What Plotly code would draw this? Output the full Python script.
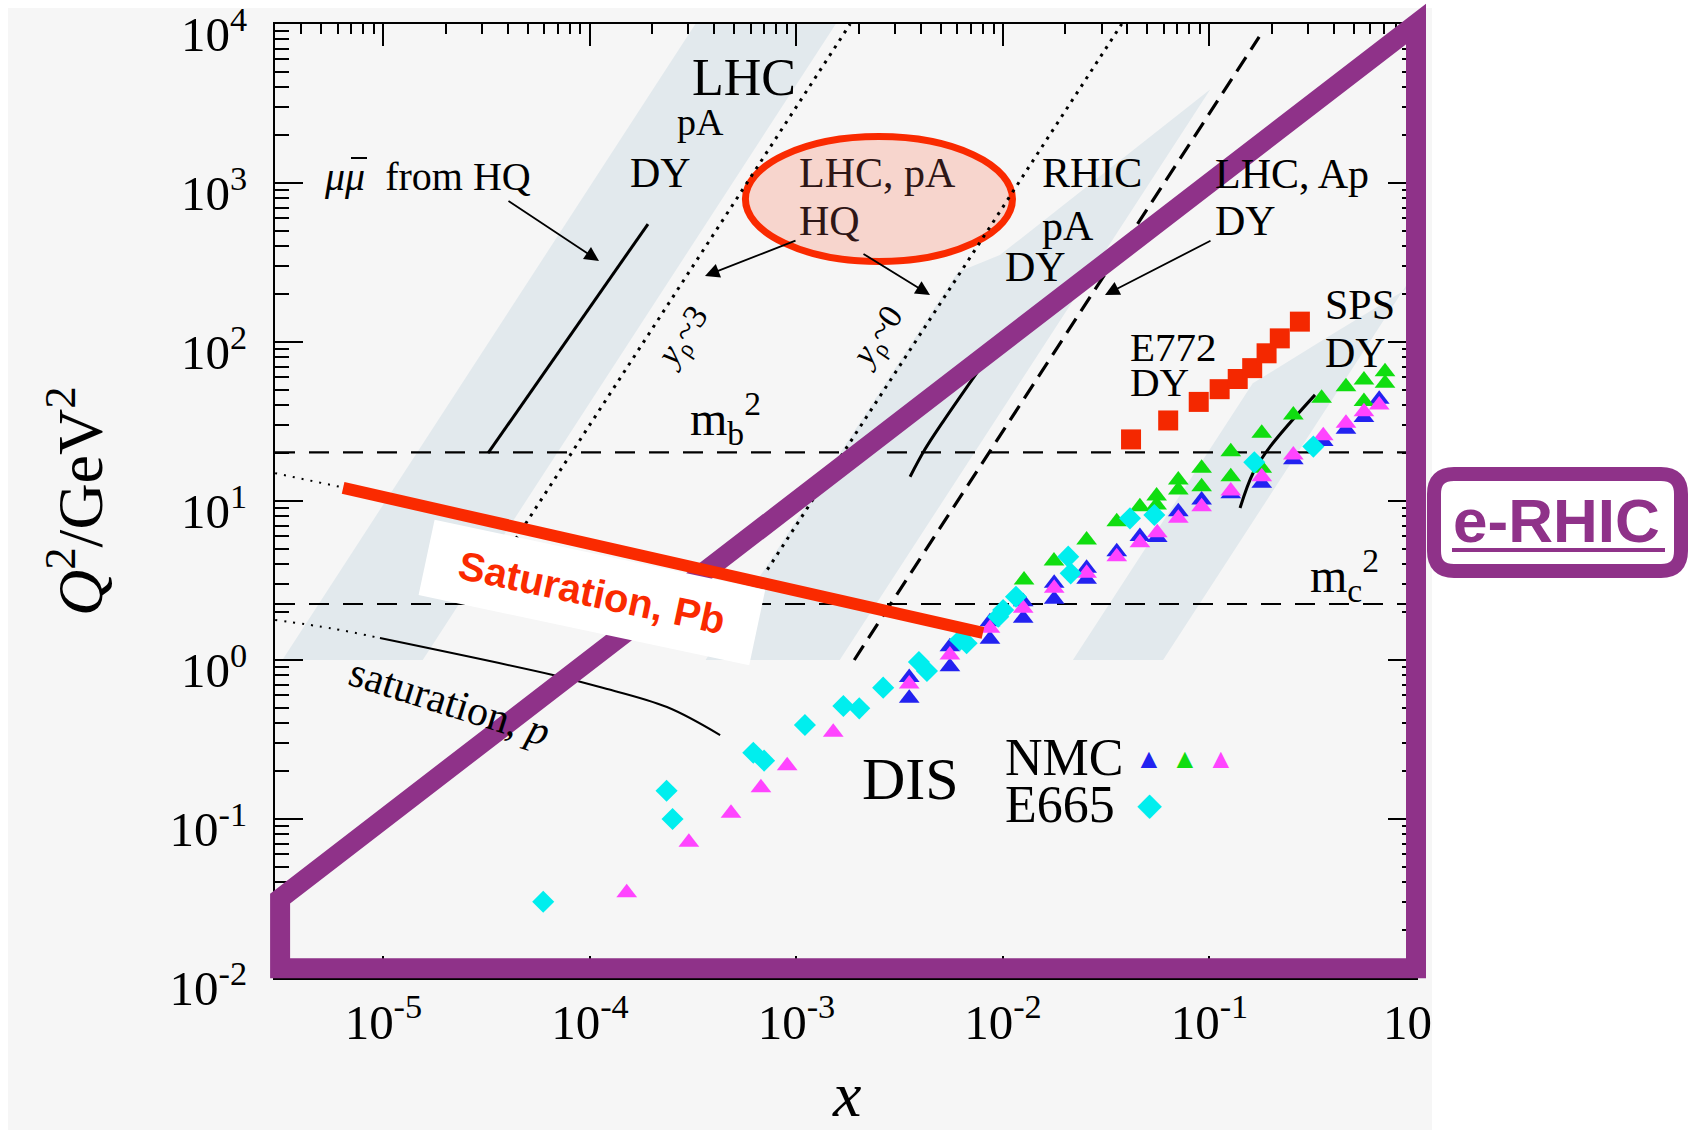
import numpy as np
import plotly.graph_objects as go

# ---------------------------------------------------------------------------
# Figure geometry (pixels) and axis ranges (log10 units)
# ---------------------------------------------------------------------------
FIG_W, FIG_H = 1691, 1130
PLOT_L, PLOT_R, PLOT_T, PLOT_B = 275, 1416, 24, 978
X_LOG_RANGE = [-5.525, 0.0]
Y_LOG_RANGE = [-2.0, 4.0]

SERIF = "Liberation Serif"
SANS = "Liberation Sans"
PURPLE = "#8f3289"
RED = "#fa2a00"
BAND = "#e2e9ed"
PANEL = "#f6f6f6"

# ---------------------------------------------------------------------------
# Tick labels
# ---------------------------------------------------------------------------
x_tick_vals = [1e-5, 1e-4, 1e-3, 1e-2, 1e-1, 1.0]
x_tick_text = ["10<sup>-5</sup>", "10<sup>-4</sup>", "10<sup>-3</sup>",
               "10<sup>-2</sup>", "10<sup>-1</sup>", "10<sup>\u2007</sup>"]
y_tick_vals = [1e-2, 1e-1, 1.0, 1e1, 1e2, 1e3, 1e4]
y_tick_text = ["10<sup>-2</sup>", "10<sup>-1</sup>", "10<sup>0</sup>", "10<sup>1</sup>",
               "10<sup>2</sup>", "10<sup>3</sup>", "10<sup>4</sup>"]
x_minor_vals = [k * 10.0 ** n for n in range(-6, 0) for k in range(2, 10)
                if 10 ** X_LOG_RANGE[0] < k * 10.0 ** n < 1.0]
y_minor_vals = [k * 10.0 ** n for n in range(-2, 4) for k in range(2, 10)]

# ---------------------------------------------------------------------------
# Data: DIS measurements (x, Q^2 in GeV^2)
# ---------------------------------------------------------------------------
nmc_blue_x = [3.516e-3, 3.516e-3, 5.534e-3, 5.534e-3, 8.650e-3, 8.650e-3, 1.253e-2, 1.253e-2,
              1.770e-2, 1.770e-2, 2.541e-2, 2.541e-2, 3.556e-2, 4.603e-2, 5.585e-2, 7.063e-2,
              9.162e-2, 0.1268, 0.1791, 0.2547, 0.3556, 0.4581, 0.5598, 0.6637]
nmc_blue_q2 = [0.574, 0.776, 0.908, 1.213, 1.349, 1.742, 1.828, 2.328,
               2.410, 3.034, 3.221, 3.776, 4.797, 5.970, 5.888, 8.570,
               10.14, 11.09, 12.91, 18.20, 23.71, 28.25, 33.50, 43.65]

nmc_green_x = [1.265e-2, 1.766e-2, 2.541e-2, 3.556e-2, 4.603e-2, 5.546e-2, 5.546e-2, 7.063e-2,
               7.063e-2, 9.162e-2, 9.162e-2, 0.1268, 0.1268, 0.1791, 0.1791, 0.2547,
               0.3491, 0.4581, 0.5598, 0.5598, 0.7079, 0.7079]
nmc_green_q2 = [3.184, 4.198, 5.689, 7.413, 9.204, 10.74, 9.441, 11.72,
                13.55, 16.07, 12.30, 20.42, 14.22, 26.67, 16.07, 34.75,
                44.26, 52.36, 57.68, 42.17, 65.01, 54.95]

nmc_magenta_x = [1.507e-4, 3.013e-4, 4.82e-4, 6.73e-4, 9.02e-4, 1.507e-3, 3.516e-3, 5.534e-3,
                 8.650e-3, 1.253e-2, 1.770e-2, 2.541e-2, 3.556e-2, 4.603e-2, 5.585e-2, 7.063e-2,
                 9.162e-2, 0.1268, 0.1791, 0.2547, 0.3556, 0.4581, 0.5598, 0.6637]
nmc_magenta_q2 = [0.0344, 0.0714, 0.1086, 0.1574, 0.2163, 0.3508, 0.7063, 1.074,
                  1.581, 2.113, 2.825, 3.508, 4.467, 5.470, 6.324, 7.780,
                  9.204, 11.56, 14.22, 19.45, 25.76, 30.83, 36.48, 40.18]

e665_x = [5.94e-5, 2.350e-4, 2.512e-4, 6.18e-4, 6.97e-4, 1.099e-3, 1.687e-3, 2.014e-3,
          2.630e-3, 3.917e-3, 4.285e-3, 6.194e-3, 6.668e-3, 9.484e-3, 1.002e-2, 1.156e-2,
          2.070e-2, 2.128e-2, 4.121e-2, 5.408e-2, 0.1648, 0.3184]
e665_q2 = [0.0302, 0.1507, 0.1000, 0.2612, 0.2328, 0.3899, 0.5140, 0.4966,
           0.6699, 0.9705, 0.8531, 1.337, 1.274, 1.871, 2.061, 2.500,
           4.467, 3.508, 7.780, 8.166, 17.50, 21.98]

# Drell-Yan measurements
e772_x = [0.0417, 0.0631, 0.0887, 0.112, 0.137, 0.161, 0.189, 0.219, 0.274]
e772_q2 = [24.4, 32.1, 42.0, 50.5, 58.5, 68.5, 84.9, 105.4, 134.3]

# ---------------------------------------------------------------------------
# Kinematic reach curves
# ---------------------------------------------------------------------------
mb2 = 20.25   # m_b^2
mc2 = 2.25    # m_c^2

# fixed-rapidity lines, Q^2 ~ x^2
yrho3_x, yrho3_q2 = [3.15e-5, 1.82e-3], [3.0, 1.0e4]
yrho0_x, yrho0_q2 = [7.23e-4, 3.76e-2], [3.7, 1.0e4]
lhc_ap_x, lhc_ap_q2 = [1.905e-3, 0.174], [1.0, 8.3e3]

# shaded acceptance bands (polygons)
band_lhc_x = [3.24e-6, 1.55e-5, 1.55e-3, 3.24e-4]
band_lhc_q2 = [1.0, 1.0, 1.0e4, 1.0e4]
band_rhic_x = [3.63e-4, 1.62e-3, 0.101, 9.66e-3, 6.03e-3]
band_rhic_q2 = [1.0, 1.0, 3890.0, 352.0, 275.0]
band_sps_x = [0.0218, 0.0596, 1.0, 1.0, 0.372, 0.162]
band_sps_q2 = [1.0, 1.0, 282.0, 234.0, 107.0, 55.0]

# heavy-quark dimuon curves
mumu_lhc_x, mumu_lhc_q2 = [3.21e-5, 1.91e-4], [20.0, 552.0]
mumu_rhic_x, mumu_rhic_q2 = [3.55e-3, 4.17e-3, 5.13e-3, 7.94e-3], [14.2, 20.9, 31.6, 71.6]
mumu_sps_x, mumu_sps_q2 = [0.1406, 0.1626, 0.1963, 0.3243], [9.04, 15.0, 21.9, 46.5]

# saturation scales
sat_p_dot_x, sat_p_dot_q2 = [2.99e-6, 5.62e-6, 9.62e-6], [1.786, 1.58, 1.374]
sat_p_x = [9.62e-6, 6.62e-5, 1.117e-4, 2.36e-4, 4.27e-4]
sat_p_q2 = [1.374, 0.805, 0.676, 0.506, 0.337]
sat_pb_dot_x, sat_pb_dot_q2 = [2.99e-6, 6.38e-6], [14.96, 12.16]
sat_pb_x, sat_pb_q2 = [6.38e-6, 8.0e-3], [12.08, 1.48]

# e-RHIC coverage outline
erhic_x = [3.16e-6, 1.0, 1.0, 3.16e-6]
erhic_q2 = [0.0316, 1.0e4, 0.0115, 0.0115]

# LHC pA heavy-quark highlight (ellipse bounds)
hq_ellipse_x = [5.66e-4, 1.112e-2]
hq_ellipse_q2 = [321.0, 1960.0]


def paper_xy(px, py):
    """Figure pixel position -> paper fraction."""
    return (px - PLOT_L) / (PLOT_R - PLOT_L), (PLOT_B - py) / (PLOT_B - PLOT_T)


def data_to_paper(x, q2):
    fx = (np.log10(x) - X_LOG_RANGE[0]) / (X_LOG_RANGE[1] - X_LOG_RANGE[0])
    fy = (np.log10(q2) - Y_LOG_RANGE[0]) / (Y_LOG_RANGE[1] - Y_LOG_RANGE[0])
    return float(fx), float(fy)


fig = go.Figure()


def add_line(x, y, color="black", width=2.0, dash="solid", shape="linear"):
    fig.add_trace(go.Scatter(x=x, y=y, mode="lines",
                             line=dict(color=color, width=width, dash=dash, shape=shape),
                             hoverinfo="skip", showlegend=False))


def add_band(x, y):
    fig.add_trace(go.Scatter(x=x, y=y, mode="lines", fill="toself", fillcolor=BAND,
                             line=dict(width=0, color=BAND), hoverinfo="skip", showlegend=False))


def add_points(x, y, symbol, color, size):
    fig.add_trace(go.Scatter(x=x, y=y, mode="markers",
                             marker=dict(symbol=symbol, color=color, size=size, line=dict(width=0)),
                             hoverinfo="skip", showlegend=False))


# bands
add_band(band_lhc_x, band_lhc_q2)
add_band(band_rhic_x, band_rhic_q2)
add_band(band_sps_x, band_sps_q2)

# mass thresholds
x_full = [10 ** X_LOG_RANGE[0], 10 ** X_LOG_RANGE[1]]
add_line(x_full, [mb2, mb2], width=2.2, dash="20px,14px")
add_line(x_full, [mc2, mc2], width=2.2, dash="20px,14px")

# rapidity / reach lines
add_line(yrho3_x, yrho3_q2, width=3, dash="3px,6px")
add_line(yrho0_x, yrho0_q2, width=3, dash="3px,6px")
add_line(lhc_ap_x, lhc_ap_q2, width=3.2, dash="17px,9px")

# dimuon curves
add_line(mumu_lhc_x, mumu_lhc_q2, width=3)
add_line(mumu_rhic_x, mumu_rhic_q2, width=3, shape="spline")
add_line(mumu_sps_x, mumu_sps_q2, width=3, shape="spline")

# saturation
add_line(sat_p_dot_x, sat_p_dot_q2, width=2, dash="2px,7px", shape="spline")
add_line(sat_p_x, sat_p_q2, width=2, shape="spline")
add_line(sat_pb_dot_x, sat_pb_dot_q2, width=2, dash="2px,7px")

# measurements
add_points(nmc_blue_x, nmc_blue_q2, "triangle-up", "#2222f0", 18)
add_points(nmc_green_x, nmc_green_q2, "triangle-up", "#10dd10", 18)
add_points(nmc_magenta_x, nmc_magenta_q2, "triangle-up", "#ff44ff", 18)
add_points(e665_x, e665_q2, "diamond", "#00eeee", 17)
add_points(e772_x, e772_q2, "square", "#f42800", 20)

# ---------------------------------------------------------------------------
# Shapes
# ---------------------------------------------------------------------------
shapes = []
bx0, by0 = paper_xy(8, FIG_H)
bx1, by1 = paper_xy(1432, 8)
shapes.append(dict(type="rect", xref="paper", yref="paper", x0=bx0, y0=by0, x1=bx1, y1=by1,
                   fillcolor=PANEL, line=dict(width=0), layer="below"))

shapes.append(dict(type="circle", xref="x", yref="y",
                   x0=hq_ellipse_x[0], x1=hq_ellipse_x[1], y0=hq_ellipse_q2[0], y1=hq_ellipse_q2[1],
                   fillcolor="#f7d5cd", line=dict(color=RED, width=7), layer="below"))

outline = [data_to_paper(x, q) for x, q in zip(erhic_x, erhic_q2)]
outline_path = "M " + " L ".join(f"{fx:.5f},{fy:.5f}" for fx, fy in outline) + " Z"
shapes.append(dict(type="path", xref="paper", yref="paper", path=outline_path,
                   line=dict(color=PURPLE, width=20), layer="above"))

shapes.append(dict(type="line", xref="x", yref="y",
                   x0=sat_pb_x[0], y0=sat_pb_q2[0], x1=sat_pb_x[1], y1=sat_pb_q2[1],
                   line=dict(color=RED, width=12), layer="above"))

# bar over the second muon symbol
mx0, my = paper_xy(351, 158)
mx1, _ = paper_xy(367, 158)
shapes.append(dict(type="line", xref="paper", yref="paper", x0=mx0, x1=mx1, y0=my, y1=my,
                   line=dict(color="black", width=2)))


def rounded_rect(px0, py0, px1, py1, r):
    def p(px, py):
        fx, fy = paper_xy(px, py)
        return f"{fx:.5f},{fy:.5f}"
    pts = ["M " + p(px0 + r, py0),
           "L " + p(px1 - r, py0),
           "Q " + p(px1, py0) + " " + p(px1, py0 + r),
           "L " + p(px1, py1 - r),
           "Q " + p(px1, py1) + " " + p(px1 - r, py1),
           "L " + p(px0 + r, py1),
           "Q " + p(px0, py1) + " " + p(px0, py1 - r),
           "L " + p(px0, py0 + r),
           "Q " + p(px0, py0) + " " + p(px0 + r, py0)]
    return " ".join(pts) + " Z"


shapes.append(dict(type="path", xref="paper", yref="paper",
                   path=rounded_rect(1434, 474, 1681, 571, 20),
                   fillcolor="white", line=dict(color=PURPLE, width=14), layer="above"))
ux0, uy = paper_xy(1452, 550)
ux1, _ = paper_xy(1665, 550)
shapes.append(dict(type="line", xref="paper", yref="paper", x0=ux0, x1=ux1, y0=uy, y1=uy,
                   line=dict(color=PURPLE, width=4), layer="above"))

# ---------------------------------------------------------------------------
# Annotations
# ---------------------------------------------------------------------------
annotations = []


def text_at(txt, px, py, size=42, xanchor="center", angle=0, color="black", family=SERIF, **kw):
    fx, fy = paper_xy(px, py)
    annotations.append(dict(text=txt, x=fx, y=fy, xref="paper", yref="paper", showarrow=False,
                            xanchor=xanchor, yanchor="middle", textangle=angle,
                            font=dict(size=size, color=color, family=family), **kw))


def arrow(head, tail):
    fx, fy = paper_xy(*head)
    annotations.append(dict(text="", x=fx, y=fy, xref="paper", yref="paper", showarrow=True,
                            ax=tail[0] - head[0], ay=tail[1] - head[1],
                            arrowhead=2, arrowsize=1.6, arrowwidth=1.8, arrowcolor="black",
                            standoff=0, startstandoff=0))


text_at("LHC", 744, 77, size=52)
text_at("pA", 700, 122, size=38)
text_at("DY", 660, 173, size=42)
text_at("<i>\u03bc\u03bc</i>\u2002from HQ", 322, 176, size=40, xanchor="left")
text_at("LHC, pA", 797, 173, size=42, xanchor="left", color="#2e1616")
text_at("HQ", 797, 221, size=42, xanchor="left", color="#2e1616")
text_at("<i>y</i><sub>\u03c1</sub>~3", 683, 338, size=34, angle=-56)
text_at("<i>y</i><sub>\u03c1</sub>~0", 878, 338, size=34, angle=-56)
text_at("m<sub>b</sub><sup>2</sup>", 688, 418, size=48, xanchor="left")
text_at("RHIC", 1040, 173, size=42, xanchor="left")
text_at("pA", 1040, 226, size=42, xanchor="left")
text_at("DY", 1003, 267, size=42, xanchor="left")
text_at("LHC, Ap", 1213, 174, size=42, xanchor="left")
text_at("DY", 1213, 221, size=42, xanchor="left")
text_at("E772", 1128, 347, size=41, xanchor="left")
text_at("DY", 1128, 382, size=41, xanchor="left")
text_at("SPS", 1323, 305, size=42, xanchor="left")
text_at("DY", 1323, 353, size=42, xanchor="left")
text_at("m<sub>c</sub><sup>2</sup>", 1308, 575, size=48, xanchor="left")
text_at("DIS", 910, 779, size=60)
text_at("NMC", 1003, 757, size=52, xanchor="left")
text_at("\u25b2", 1149, 759, size=28, color="#2222f0")
text_at("\u25b2", 1185, 759, size=28, color="#10dd10")
text_at("\u25b2", 1221, 759, size=28, color="#ff44ff")
text_at("E665", 1003, 804, size=52, xanchor="left")
text_at("\u25c6", 1149, 804, size=32, color="#00eeee")
text_at("saturation, <i>p</i>", 450, 702, size=42, angle=17.5)

arrow((599, 261), (507, 200))
arrow((705, 276), (797, 240))
arrow((930, 295), (862, 253))
arrow((1105, 295), (1212, 240))

# saturation label on a white card
sx, sy = paper_xy(592, 592)
annotations.append(dict(text="<b>Saturation, Pb</b>", x=sx, y=sy, xref="paper", yref="paper",
                        xanchor="center", yanchor="middle",
                        showarrow=False, textangle=12, bgcolor="white", borderwidth=0,
                        borderpad=0, width=338, height=77, align="center", valign="middle",
                        font=dict(size=40, color=RED, family=SANS)))

# axis titles
text_at("<i>Q</i><sup>2</sup>/GeV<sup>2</sup>", 75, 501, size=64, angle=-90)
text_at("<i>x</i>", 846, 1094, size=64)

# e-RHIC tag
text_at("<b>e-RHIC</b>", 1557, 520, size=62, color=PURPLE, family=SANS)

# ---------------------------------------------------------------------------
# Layout
# ---------------------------------------------------------------------------
axis_common = dict(type="log", tickmode="array", ticks="inside", tickwidth=2, tickcolor="black",
                   showline=True, linecolor="black", linewidth=2, mirror="allticks",
                   showgrid=False, zeroline=False, ticklabeloverflow="allow",
                   tickfont=dict(family=SERIF, size=49, color="black"))

fig.update_xaxes(range=X_LOG_RANGE, tickvals=x_tick_vals, ticktext=x_tick_text, ticklen=22,
                 minor=dict(tickmode="array", tickvals=x_minor_vals, ticks="inside", ticklen=10,
                            tickwidth=1.5, tickcolor="black", showgrid=False),
                 **axis_common)
fig.update_yaxes(range=Y_LOG_RANGE, tickvals=y_tick_vals, ticktext=y_tick_text, ticklen=28,
                 ticklabelstandoff=16, ticklabelshift=10,
                 minor=dict(tickmode="array", tickvals=y_minor_vals, ticks="inside", ticklen=14,
                            tickwidth=1.5, tickcolor="black", showgrid=False),
                 **axis_common)

fig.update_layout(width=FIG_W, height=FIG_H,
                  margin=dict(l=PLOT_L, r=FIG_W - PLOT_R, t=PLOT_T, b=FIG_H - PLOT_B, pad=0,
                              autoexpand=False),
                  paper_bgcolor="white", plot_bgcolor=PANEL, showlegend=False,
                  font=dict(family=SERIF, color="black"),
                  shapes=shapes, annotations=annotations)

fig.write_html("out.html")
